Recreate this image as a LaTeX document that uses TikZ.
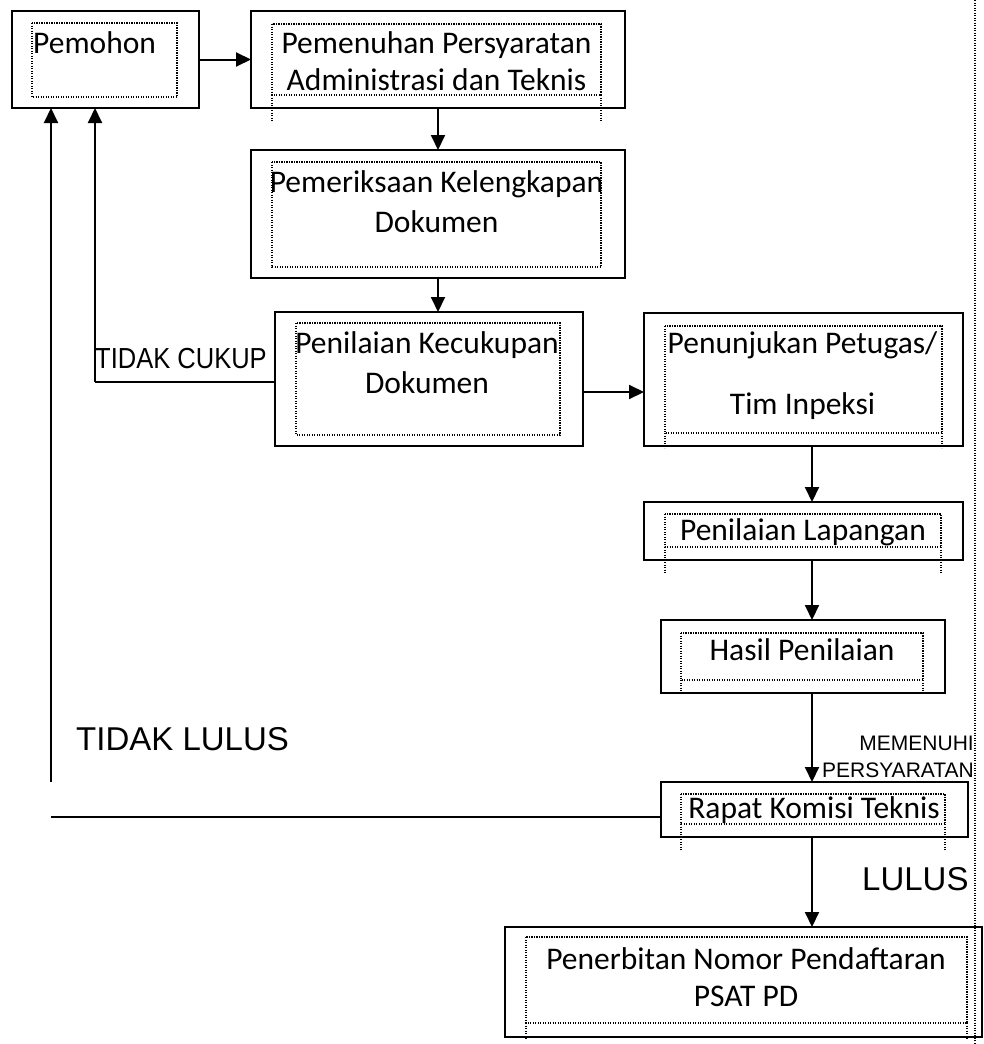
\documentclass[tikz,border=0pt]{standalone}
\usepackage{fontspec}
\setmainfont{Carlito}
\newfontfamily\arialfont{Liberation Sans}
\newfontfamily\arialsempit[FakeStretch=0.88]{Liberation Sans}
\usepackage{tikz}
\usetikzlibrary{arrows.meta}

\tikzset{
  kotak/.style={draw, line width=2pt, inner sep=0pt, outer sep=0pt},
  bingkai/.style={line width=1.2pt, dash pattern={on 1.2pt off 1.3pt}},
  panah/.style={line width=2pt, -{Triangle[length=15pt,width=14pt]}},
  garis/.style={line width=2pt},
  isi/.style={inner sep=0pt, align=center, font=\fontsize{31.5}{37}\selectfont},
  ket/.style={inner sep=0pt, font=\arialfont\fontsize{#1}{#1}\selectfont},
}

\begin{document}
\begin{tikzpicture}[x=1pt,y=1pt,yscale=-1,xscale=1]
    \useasboundingbox (0,0) rectangle (984,1044);

    %Boxes
    \node[kotak, minimum width=187pt, minimum height=97pt] (pemohon) at (105.5,59.5) {};
    \node[kotak, minimum width=374pt, minimum height=97pt] (pemenuhan) at (438,59.5) {};
    \node[kotak, minimum width=374pt, minimum height=128pt] (pemeriksaan) at (438,214) {};
    \node[kotak, minimum width=308pt, minimum height=134pt] (kecukupan) at (429,379) {};
    \node[kotak, minimum width=319pt, minimum height=133pt] (penunjukan) at (803.5,379.5) {};
    \node[kotak, minimum width=319pt, minimum height=58pt] (lapangan) at (803.5,531) {};
    \node[kotak, minimum width=284pt, minimum height=73pt] (hasil) at (803,656.5) {};
    \node[kotak, minimum width=307pt, minimum height=55pt] (rapat) at (814.5,809.5) {};
    \node[kotak, minimum width=477pt, minimum height=110pt] (penerbitan) at (743.5,982) {};

    %Dotted text frames
    \draw[bingkai] (32,23) rectangle (177,97);
    \draw[bingkai] (272,24) rectangle (601,95) (272,95) -- (272,122) (601,95) -- (601,122);
    \draw[bingkai] (272,162) rectangle (601,267);
    \draw[bingkai] (296,323) rectangle (560,435);
    \draw[bingkai] (665,326) rectangle (942,433) (665,433) -- (665,448) (942,433) -- (942,448);
    \draw[bingkai] (665,514) rectangle (941,547) (665,547) -- (665,573) (941,547) -- (941,573);
    \draw[bingkai] (681,633) rectangle (923,680) (681,680) -- (681,693) (923,680) -- (923,693);
    \draw[bingkai] (681,794) rectangle (945,824) (681,824) -- (681,850) (945,824) -- (945,850);
    \draw[bingkai] (526,937) rectangle (967,1023) (526,1023) -- (526,1040) (967,1023) -- (967,1040);
    %page margin
    \draw[bingkai] (975,0) -- (975,1044);

    % Text Node
    \node[isi, anchor=west] (t-pemohon) at (33,43) {Pemohon};
    % Text Node
    \node[isi] (t-pemenuhan) at (436.5,61.5) {Pemenuhan Persyaratan\\Administrasi dan Teknis};
    % Text Node
    \node[isi] (t-pemeriksaan) at (436.5,202) {Pemeriksaan Kelengkapan\\[3pt]Dokumen};
    % Text Node
    \node[isi] (t-kecukupan) at (427,363) {Penilaian Kecukupan\\[3pt]Dokumen};
    % Text Node
    \node[isi] (t-penunjukan) at (802.5,375.5) {Penunjukan Petugas/\\[24pt]Tim Inpeksi};
    % Text Node
    \node[isi] (t-lapangan) at (803,532) {Penilaian Lapangan};
    % Text Node
    \node[isi] (t-hasil) at (802,650) {Hasil Penilaian};
    % Text Node
    \node[isi] (t-rapat) at (814,810) {Rapat Komisi Teknis};
    % Text Node
    \node[isi] (t-penerbitan) at (746,977.5) {Penerbitan Nomor Pendaftaran\\PSAT PD};

    % Text Node
    \node[inner sep=0pt, font=\arialsempit\fontsize{29}{29}\selectfont, anchor=base west] (l-cukup) at (95,368) {TIDAK CUKUP};
    % Text Node
    \node[ket=33, anchor=base west] (l-tidaklulus) at (76,750) {TIDAK LULUS};
    % Text Node
    \node[ket=33, anchor=base west] (l-lulus) at (862,890) {LULUS};
    % Text Node
    \node[ket=21, anchor=base east] (l-memenuhi) at (974,750) {MEMENUHI};
    % Text Node
    \node[ket=21, anchor=base east] (l-persyaratan) at (974,777) {PERSYARATAN};

    %Connectors
    \coordinate (jalur) at (812,0);
    \coordinate (cukup) at (95,382);
    \coordinate (gagal) at (51,782);
    \draw[panah] (pemohon) -- (pemenuhan);
    \draw[panah] (pemenuhan) -- (pemeriksaan);
    \draw[panah] (pemeriksaan.south) -- (pemeriksaan.south |- kecukupan.north);
    \draw[panah] ([yshift=13pt]kecukupan.east) -- ([yshift=13pt]kecukupan.east -| penunjukan.west);
    \draw[panah] (penunjukan.south -| jalur) -- (lapangan.north -| jalur);
    \draw[panah] (lapangan.south -| jalur) -- (hasil.north -| jalur);
    \draw[panah] (hasil.south -| jalur) -- (rapat.north -| jalur);
    \draw[panah] (rapat.south -| jalur) -- (penerbitan.north -| jalur);
    \draw[garis] ([yshift=3pt]kecukupan.west) -- ([yshift=3pt]kecukupan.west -| cukup);
    \draw[panah] (cukup) -- (cukup |- pemohon.south);
    \draw[garis] ([yshift=7.5pt]rapat.west) -- ([yshift=7.5pt]rapat.west -| gagal);
    \draw[panah] (gagal) -- (gagal |- pemohon.south);
\end{tikzpicture}
\end{document}
